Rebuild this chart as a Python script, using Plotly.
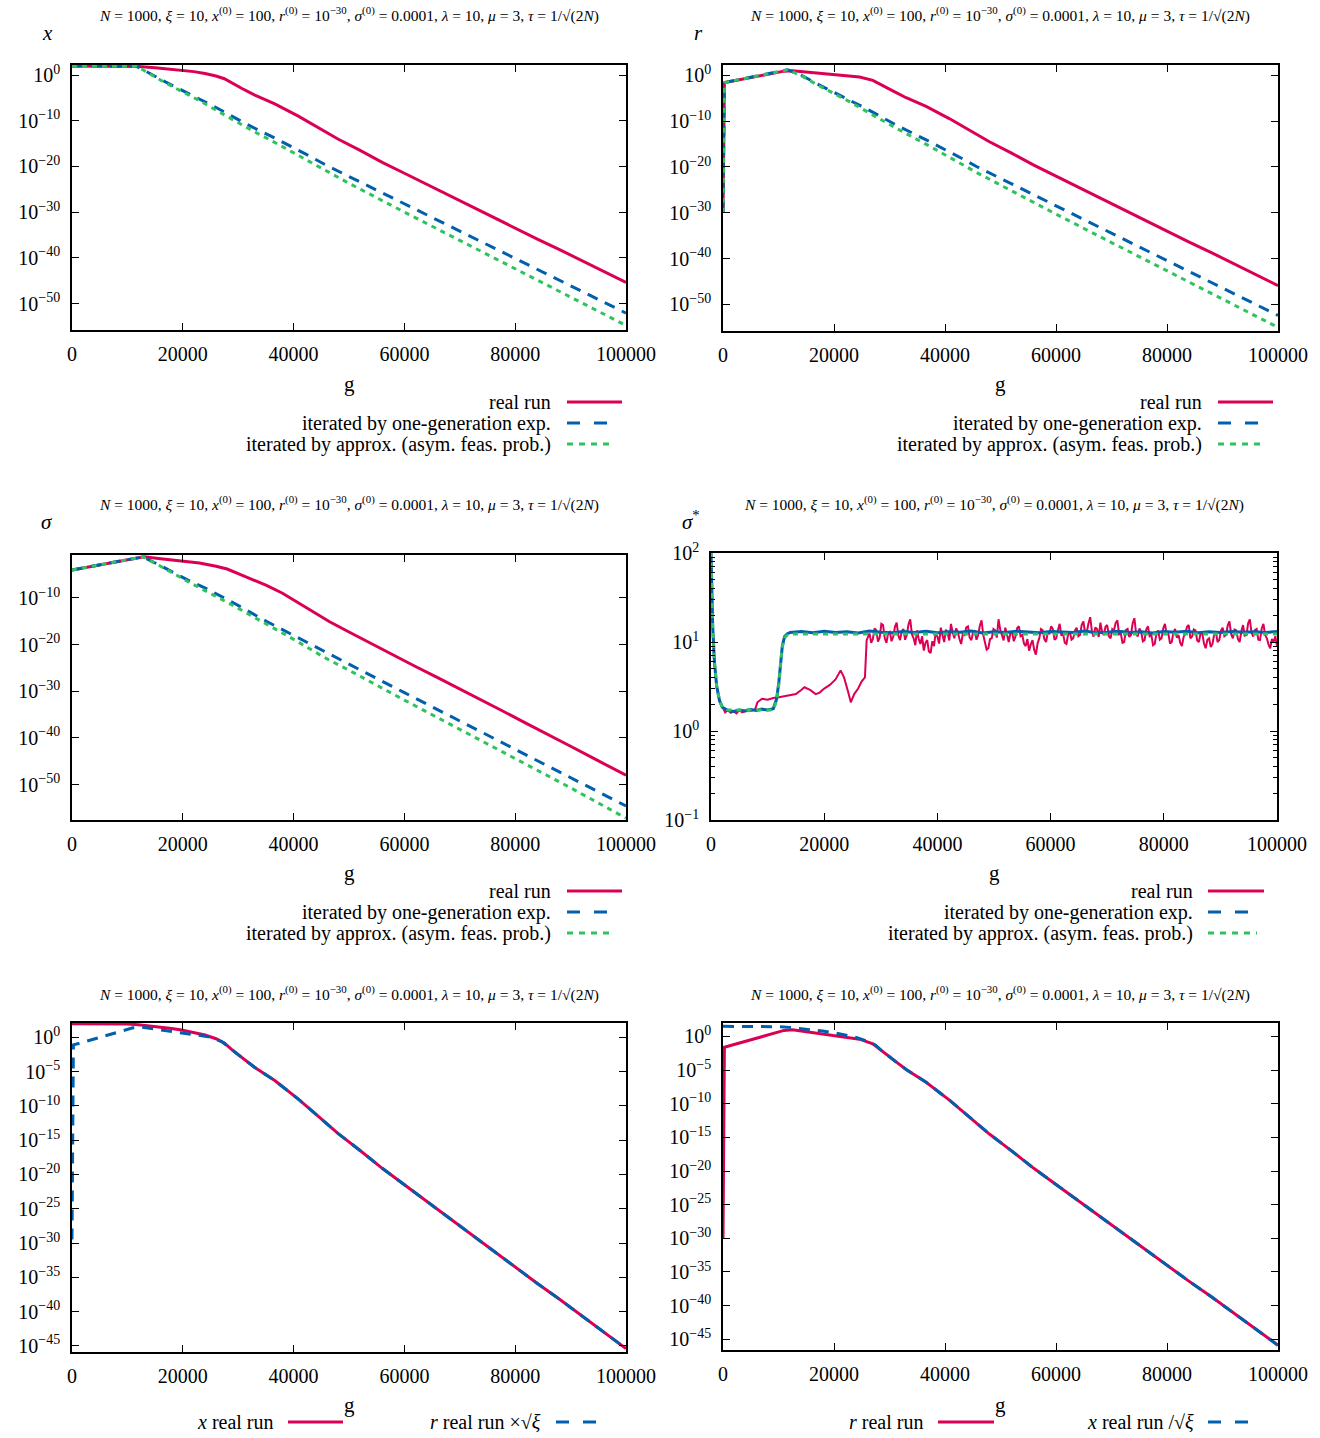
import numpy as np
import plotly.graph_objects as go

# ------------------------------------------------------------------
# DATA (log10 of the plotted value unless noted)
# ------------------------------------------------------------------
# x panel / real run of x
g_real_x = [0, 5000, 10000, 12000, 15000, 18000, 20000, 22000, 24000, 26000, 27500, 29000,
            30600, 33000, 36600, 40850, 44000, 48000, 52000, 56000, 60000, 64000, 68000,
            72000, 76000, 80000, 84000, 88000, 92000, 96000, 100000]
log_real_x = [2.0, 2.0, 1.95, 1.85, 1.6, 1.3, 1.05, 0.75, 0.35, -0.2, -0.8, -1.9,
              -2.9, -4.4, -6.3, -9.0, -11.2, -14.0, -16.5, -19.1, -21.5, -23.9, -26.3,
              -28.8, -31.1, -33.5, -35.9, -38.2, -40.6, -43.0, -45.4]
# x iterated by one-generation expectation
g_one_x = [0, 6000, 10000, 11650, 13000, 14000, 16850, 19800, 22850, 26000, 31260, 37270,
           42970, 45670, 50000, 60000, 70000, 80000, 90000, 100000]
log_one_x = [2.0, 2.0, 1.98, 1.9, 1.0, 0.4, -1.5, -3.3, -5.1, -7.1, -10.6, -14.2,
             -17.8, -19.6, -22.2, -28.2, -34.2, -40.2, -46.1, -52.1]
# x iterated by approximation
g_app_x = [0, 6000, 10000, 11650, 13000, 14000, 16850, 22850, 31260, 37270, 45670, 50000,
           60000, 70000, 80000, 90000, 100000]
log_app_x = [2.0, 2.0, 1.98, 1.9, 1.0, 0.3, -1.7, -5.5, -11.3, -15.2, -20.9, -23.7,
             -30.0, -36.2, -42.4, -48.5, -54.8]

# r panel
g_real_r = [0, 250, 2000, 5000, 8000, 11000, 12500, 15000, 19800, 24600, 27000, 28500,
            30600, 33000, 36600, 40850, 44000, 48000, 52000, 56000, 60000, 64000, 68000,
            72000, 76000, 80000, 84000, 88000, 92000, 96000, 100000]
log_real_r = [-30.0, -1.6, -1.2, -0.5, 0.2, 0.9, 1.0, 0.7, 0.2, -0.4, -1.1, -2.1,
              -3.4, -4.9, -6.8, -9.5, -11.7, -14.5, -17.0, -19.6, -22.0, -24.4, -26.8,
              -29.3, -31.6, -34.0, -36.4, -38.7, -41.1, -43.5, -45.9]
g_one_r = [0, 250, 11650, 14000, 16850, 19800, 22850, 26000, 31260, 37270, 42970, 45670,
           50000, 60000, 70000, 80000, 90000, 100000]
log_one_r = [-30.0, -1.6, 1.2, 0.1, -1.8, -3.6, -5.4, -7.4, -10.9, -14.5, -18.1, -19.9,
             -22.5, -28.5, -34.5, -40.5, -46.4, -52.4]
g_app_r = [0, 250, 11650, 14000, 16850, 22850, 31260, 37270, 45670, 50000, 60000, 70000,
           80000, 90000, 100000]
log_app_r = [-30.0, -1.6, 1.2, 0.0, -2.0, -5.8, -11.6, -15.5, -21.2, -24.0, -30.3, -36.5,
             -42.7, -48.8, -55.0]

# sigma panel
g_real_s = [0, 4000, 8000, 12000, 13000, 16000, 20000, 23000, 26000, 28000, 30000, 33000,
            35100, 38000, 41100, 44000, 46500, 50000, 54000, 58000, 62000, 66000, 70000,
            74000, 78000, 82000, 86000, 90000, 94000, 98000, 100000]
log_real_s = [-4.0, -3.1, -2.2, -1.3, -1.2, -1.6, -2.2, -2.5, -3.2, -3.8, -4.8, -6.3,
              -7.3, -9.0, -11.2, -13.2, -15.1, -17.3, -19.8, -22.3, -24.7, -27.1, -29.5,
              -32.0, -34.4, -36.9, -39.3, -41.8, -44.3, -46.8, -48.0]
g_one_s = [0, 12800, 15830, 20940, 24250, 29360, 35080, 40490, 46200, 50000, 60000, 70000,
           80000, 90000, 100000]
log_one_s = [-4.0, -1.2, -3.0, -6.2, -8.0, -11.2, -15.0, -18.4, -21.9, -24.2, -30.3, -36.4,
             -42.4, -48.5, -54.6]
g_app_s = [0, 12800, 15830, 20940, 29360, 40490, 45600, 50000, 60000, 70000, 80000, 90000,
           100000]
log_app_s = [-4.0, -1.2, -3.1, -6.5, -11.8, -19.2, -22.8, -25.5, -31.9, -38.2, -44.4, -50.7,
             -57.2]

# sigma* panel (plain values)
g_real_ss_early = [0, 150, 300, 600, 1000, 1500, 2000, 2500, 3000, 3500, 4000, 4500, 5000,
                   5500, 6000, 6500, 7000, 7800, 8200, 9000, 10000, 11000, 12000, 13000,
                   14000, 15000, 16000, 16500, 17500, 18500, 19200, 20000, 21000, 22000,
                   22900, 23500, 24200, 24700, 25300, 26000, 26600, 27200, 27500, 27800]
val_real_ss_early = [100, 40, 15, 6, 3.2, 2.2, 1.85, 1.62, 1.72, 1.6, 1.66, 1.58, 1.72,
                     1.62, 1.66, 1.74, 1.68, 1.75, 2.1, 2.3, 2.25, 2.35, 2.4, 2.45,
                     2.5, 2.6, 2.9, 3.1, 2.9, 2.6, 2.7, 3.0, 3.3, 3.8,
                     4.8, 4.0, 2.8, 2.1, 2.6, 3.0, 3.6, 4.0, 10.5, 12.0]
# noisy part, one reading every 300 generations from g = 28000 to g = 100000
g_real_ss_noise = list(range(28000, 100001, 300))
val_real_ss_noise = [
    12.5, 9.8, 10.8, 14.2, 13.6, 10.1, 11.2, 16.0, 15.5, 11.0, 9.8, 12.6, 13.0, 10.2, 11.5, 14.8, 16.5, 11.8, 10.5, 13.2,
    14.0, 10.6, 12.0, 15.8, 18.0, 12.2, 11.0, 9.2, 13.5, 10.8, 9.5, 11.6, 8.0, 9.8, 10.5, 7.8, 7.5, 10.2, 9.0, 12.8,
    11.5, 9.6, 14.5, 12.0, 10.0, 13.8, 12.5, 10.4, 16.0, 12.8, 11.0, 14.2, 13.0, 10.8, 9.5, 12.4, 12.0, 14.6, 15.0, 11.2,
    10.5, 12.8, 13.5, 10.6, 12.0, 15.2, 17.5, 12.0, 10.0, 8.2, 8.5, 10.8, 11.0, 14.0, 13.5, 11.2, 18.0, 13.8, 12.0, 10.4,
    14.5, 11.8, 10.0, 12.6, 13.0, 10.2, 11.5, 14.4, 15.0, 11.6, 12.0, 9.6, 9.0, 10.8, 8.0, 9.4, 10.5, 8.2, 7.2, 9.6,
    11.0, 14.0, 13.5, 10.8, 10.0, 12.8, 12.5, 15.0, 14.0, 10.6, 11.0, 13.6, 16.0, 11.8, 12.5, 9.8, 9.5, 12.2, 13.0, 10.6,
    11.0, 13.4, 14.5, 11.6, 12.0, 15.6, 17.0, 12.6, 13.0, 16.2, 19.0, 13.2, 11.5, 14.6, 14.0, 11.4, 16.5, 13.0, 12.0, 14.8,
    15.5, 11.6, 11.0, 14.0, 13.5, 16.4, 17.5, 12.2, 12.5, 9.8, 10.0, 13.6, 14.0, 11.4, 12.0, 16.2, 18.5, 12.6, 11.5, 14.2,
    13.0, 10.2, 10.5, 13.8, 15.0, 11.6, 12.0, 9.2, 9.5, 12.4, 13.5, 10.6, 11.0, 14.2, 16.0, 12.4, 12.5, 9.6, 10.0, 12.8,
    14.0, 11.2, 12.0, 9.8, 9.0, 11.4, 12.5, 14.8, 15.5, 11.0, 11.5, 13.8, 13.5, 10.4, 10.0, 12.6, 12.5, 9.6, 8.5, 10.6,
    11.0, 8.8, 9.5, 12.2, 13.0, 10.0, 10.5, 13.4, 14.5, 11.6, 12.0, 15.4, 17.0, 12.2, 11.0, 13.8, 13.5, 10.8, 10.0, 13.2,
    15.5, 11.8, 12.0, 16.2, 18.0, 12.8, 11.5, 13.6, 14.0, 10.6, 10.5, 14.2, 16.0, 12.0, 11.0, 9.4, 8.5, 10.8, 10.0, 11.6,
    9.0]
g_one_ss = [0, 150, 300, 600, 1000, 1500, 2000, 3000, 4000, 5000, 6000, 7000, 8000, 9000,
            10000, 11000, 11600, 12000, 12300, 12600, 13000, 13500, 14000,
            16000, 18000, 20000, 22000, 24000, 26000, 28000, 30000, 32000, 34000,
            36000, 38000, 40000, 42000, 44000, 46000, 48000, 50000, 52000, 54000,
            56000, 58000, 60000, 62000, 64000, 66000, 68000, 70000, 72000, 74000,
            76000, 78000, 80000, 82000, 84000, 86000, 88000, 90000, 92000, 94000,
            96000, 98000, 100000]
val_one_ss = [100, 40, 15, 6, 3.2, 2.2, 1.85, 1.7, 1.66, 1.72, 1.68, 1.74, 1.7, 1.76,
              1.72, 1.78, 2.3, 3.6, 6.0, 9.0, 11.5, 12.4, 12.8,
              13.1, 12.7, 13.2, 12.8, 13.0, 12.6, 13.3, 12.9, 12.7, 13.1,
              12.8, 13.2, 12.7, 13.0, 12.9, 13.3, 12.6, 13.0, 12.8, 13.2,
              12.9, 12.7, 13.1, 13.0, 12.8, 13.3, 12.7, 12.9, 13.2, 12.8,
              13.0, 12.6, 13.1, 12.9, 13.2, 12.7, 13.0, 12.8, 13.1, 12.9,
              13.0, 12.8, 13.1]
g_app_ss = [0, 150, 300, 600, 1000, 1500, 2000, 3000, 11000, 11600, 12000, 12300, 12600,
            13000, 13500, 14000, 100000]
val_app_ss = [100, 40, 15, 6, 3.2, 2.2, 1.85, 1.72, 1.72, 2.2, 3.4, 5.8, 8.8,
              11.2, 12.0, 12.3, 12.3]

XI = 10.0  # xi, used for the scaled comparison curves

x_ticks = [0, 20000, 40000, 60000, 80000, 100000]
exp_ticks_10 = [0, -10, -20, -30, -40, -50]
exp_ticks_sig = [-10, -20, -30, -40, -50]
exp_ticks_ss = [-1, 0, 1, 2]
exp_ticks_5 = [0, -5, -10, -15, -20, -25, -30, -35, -40, -45]

TITLE = ("<i>N</i> = 1000, <i>ξ</i> = 10, <i>x</i><sup>(0)</sup> = 100, "
         "<i>r</i><sup>(0)</sup> = 10<sup>−30</sup>, <i>σ</i><sup>(0)</sup> = 0.0001, "
         "<i>λ</i> = 10, <i>μ</i> = 3, <i>τ</i> = 1/√(2<i>N</i>)")

# ------------------------------------------------------------------
RED, BLUE, GREEN = "#dc0055", "#0060ad", "#2ec35e"
FONT = "Liberation Serif"
W, H = 1320, 1438
DASH = "11px,8px"
DOT = "5px,5px"


def px(p):
    return p / W


def py(p):
    return 1 - p / H


def pw(v):
    return np.power(10.0, np.array(v, dtype=float))


fig = go.Figure()


def add(n, g, y, color, dash=None, width=3):
    sfx = "" if n == 1 else str(n)
    fig.add_trace(go.Scatter(x=g, y=y, mode="lines", showlegend=False,
                             line=dict(color=color, width=width, dash=dash),
                             xaxis="x" + sfx, yaxis="y" + sfx, hoverinfo="skip"))


# panel 1: x
add(1, g_real_x, pw(log_real_x), RED)
add(1, g_one_x, pw(log_one_x), BLUE, DASH)
add(1, g_app_x, pw(log_app_x), GREEN, DOT)
# panel 2: r
add(2, g_real_r, pw(log_real_r), RED)
add(2, g_one_r, pw(log_one_r), BLUE, DASH)
add(2, g_app_r, pw(log_app_r), GREEN, DOT)
# panel 3: sigma
add(3, g_real_s, pw(log_real_s), RED)
add(3, g_one_s, pw(log_one_s), BLUE, DASH)
add(3, g_app_s, pw(log_app_s), GREEN, DOT)
# panel 4: sigma*
add(4, g_real_ss_early + g_real_ss_noise, val_real_ss_early + val_real_ss_noise, RED, width=2)
add(4, g_one_ss, val_one_ss, BLUE, width=3)
add(4, g_app_ss, val_app_ss, GREEN, DOT)
# panel 5: x real run and r real run * sqrt(xi)
add(5, g_real_x, pw(log_real_x), RED)
add(5, g_real_r, pw(log_real_r) * np.sqrt(XI), BLUE, DASH)
# panel 6: r real run and x real run / sqrt(xi)
add(6, g_real_r, pw(log_real_r), RED)
add(6, g_real_x, pw(log_real_x) / np.sqrt(XI), BLUE, DASH)

panels = [
    dict(n=1, x0=72, x1=626, y0=65, y1=330, yr=[-55.8, 2.2], yt=exp_ticks_10),
    dict(n=2, x0=723, x1=1278, y0=65, y1=331, yr=[-55.8, 2.24], yt=exp_ticks_10),
    dict(n=3, x0=72, x1=626, y0=555, y1=820, yr=[-57.6, -0.8], yt=exp_ticks_sig),
    dict(n=4, x0=711, x1=1277, y0=553, y1=820, yr=[-1, 2], yt=exp_ticks_ss),
    dict(n=5, x0=72, x1=626, y0=1023, y1=1352, yr=[-45.9, 2.1], yt=exp_ticks_5),
    dict(n=6, x0=723, x1=1278, y0=1023, y1=1350, yr=[-46.6, 2.0], yt=exp_ticks_5),
]


def sup(e):
    s = str(e).replace("-", "−")
    return "10<sup>%s</sup>" % s


layout = dict(width=W, height=H, autosize=False,
              margin=dict(l=0, r=0, t=0, b=0, pad=0, autoexpand=False),
              paper_bgcolor="white", plot_bgcolor="white",
              font=dict(family=FONT, size=20, color="black"))
for p in panels:
    sfx = "" if p["n"] == 1 else str(p["n"])
    ax = dict(domain=[px(p["x0"]), px(p["x1"])], anchor="y" + sfx, range=[0, 100000],
              tickvals=x_ticks, ticktext=[str(t) for t in x_ticks], automargin=False,
              ticks="inside", ticklen=7, tickwidth=1.2, tickcolor="black",
              showline=True, linecolor="black", linewidth=1.5, mirror="ticks",
              showgrid=False, zeroline=False, ticklabelstandoff=5,
              tickfont=dict(family=FONT, size=20, color="black"))
    ay = dict(domain=[py(p["y1"]), py(p["y0"])], anchor="x" + sfx, type="log",
              range=p["yr"], tickvals=[10.0 ** e for e in p["yt"]],
              ticktext=[sup(e) for e in p["yt"]], automargin=False,
              ticks="inside", ticklen=7, tickwidth=1.2, tickcolor="black",
              showline=True, linecolor="black", linewidth=1.5, mirror="ticks",
              showgrid=False, zeroline=False, ticklabelstandoff=6,
              tickfont=dict(family=FONT, size=20, color="black"))
    if p["n"] == 4:
        ay["minor"] = dict(ticks="inside", ticklen=4, tickcolor="black",
                           tickvals=[k * 10.0 ** e for e in (-1, 0, 1) for k in range(2, 10)])
    layout["xaxis" + sfx] = ax
    layout["yaxis" + sfx] = ay

fig.update_layout(**layout)

ann = []
shapes = []


def text(x, y, s, size=20, anchor="center"):
    ann.append(dict(x=px(x), y=py(y), xref="paper", yref="paper", text=s, showarrow=False,
                    xanchor=anchor, yanchor="middle",
                    font=dict(family=FONT, size=size, color="black")))


def sample(x0, x1, y, color, dash):
    shapes.append(dict(type="line", xref="paper", yref="paper", x0=px(x0), x1=px(x1),
                       y0=py(y), y1=py(y), line=dict(color=color, width=3, dash=dash)))


# titles
for cx, cy in [(349, 14), (1000, 14), (349, 503), (994, 503), (349, 993), (1000, 993)]:
    text(cx, cy, TITLE, size=15.5)
# y labels
text(47, 33, "<i>x</i>", 21)
text(698, 33, "<i>r</i>", 21)
text(47, 522, "<i>σ</i>", 21)
text(691, 520, "<i>σ</i><sup>*</sup>", 21)
# x labels
for cx, cy in [(349, 384), (1000, 384), (349, 873), (994, 873), (349, 1405), (1000, 1405)]:
    text(cx, cy, "g", 21)

LS = 20  # legend text size
LEG = ["real run", "iterated by one-generation exp.", "iterated by approx. (asym. feas. prob.)"]
for tr, s0, s1, rows in [(553, 567, 622, (402, 423, 444)),
                         (1204, 1218, 1273, (402, 423, 444)),
                         (553, 567, 622, (891, 912, 933)),
                         (1195, 1208, 1264, (891, 912, 933))]:
    text(tr, rows[0], LEG[0], LS, anchor="right")
    text(tr, rows[1], LEG[1], LS, anchor="right")
    text(tr, rows[2], LEG[2], LS, anchor="right")
    sample(s0, s1, rows[0], RED, "solid")
    sample(s0, s1 - 14, rows[1], BLUE, "13px,14px")
    sample(s0, s1 - 7, rows[2], GREEN, "6px,6px")

# bottom legends
text(276, 1422, "<i>x</i> real run", LS, anchor="right")
sample(288, 343, 1422, RED, "solid")
text(543, 1422, "<i>r</i> real run ×√<i>ξ</i>", LS, anchor="right")
sample(556, 598, 1422, BLUE, "13px,14px")
text(925, 1422, "<i>r</i> real run", LS, anchor="right")
sample(938, 994, 1422, RED, "solid")
text(1196, 1422, "<i>x</i> real run /√<i>ξ</i>", LS, anchor="right")
sample(1208, 1250, 1422, BLUE, "13px,14px")

fig.update_layout(annotations=ann, shapes=shapes)
fig.write_html("out.html")
